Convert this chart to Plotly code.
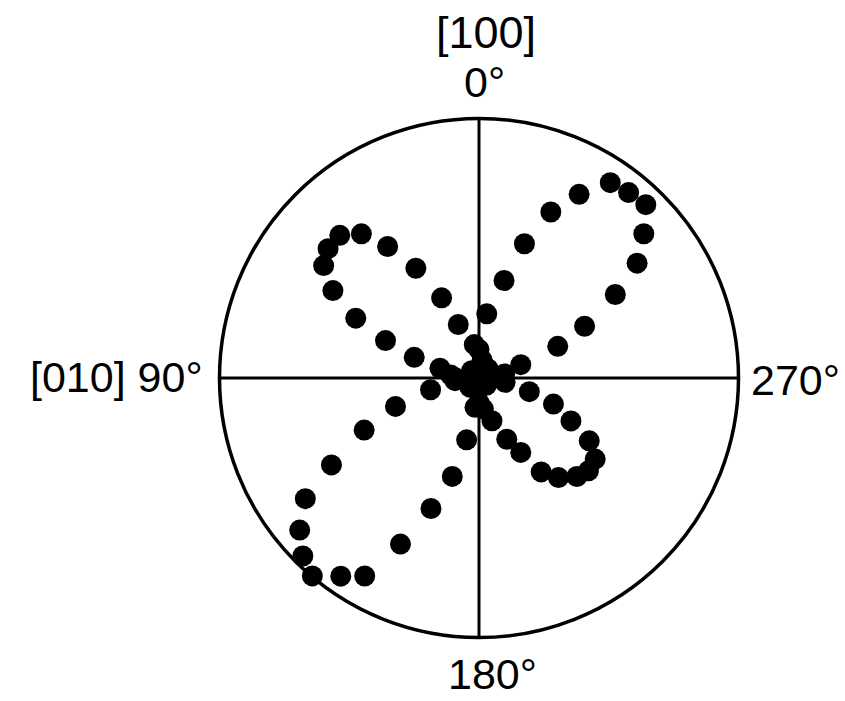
import plotly.graph_objects as go

# Polar scan: angle in degrees (counter-clockwise from [100]) and
# normalised signal amplitude (1.0 = outer circle).
theta_deg = [
    # lobe between 0° and 90°
    21.2, 25.0, 29.9, 34.8, 39.2, 44.3, 49.4, 54.1, 59.1, 64.1, 68.2, 72.3, 76.0,
    # near [010]
    84.0, 90.0,
    # lobe between 90° and 180°
    96.4, 103.6, 108.8, 114.4, 120.5, 124.8, 130.3, 135.3, 139.9, 145.1, 150.0,
    154.7, 159.8, 164.8, 168.7, 172.2,
    # near 180°
    180.0, 188.0,
    # lobe between 180° and 270°
    196.9, 204.4, 209.3, 213.5, 218.6, 224.8, 229.7, 235.1, 240.3, 245.0, 250.7,
    254.8, 260.6,
    # near 270°
    270.0, 279.0,
    # lobe between 270° and 360°
    287.7, 291.9, 296.1, 301.5, 306.0, 311.2, 316.1, 321.1, 326.1, 331.4, 336.6,
    341.3, 345.6, 353.1,
    # near [100]
    0.0, 8.0,
    # small values around the origin
    45.0, 135.0, 225.0, 315.0, 100.0, 350.0,
]
signal = [
    0.221, 0.341, 0.488, 0.617, 0.717, 0.768, 0.766, 0.739, 0.656, 0.528, 0.388, 0.262, 0.155,
    0.110, 0.090,
    0.093, 0.192, 0.340, 0.486, 0.660, 0.815, 0.906, 0.965, 0.997, 0.931, 0.881,
    0.708, 0.536, 0.393, 0.243, 0.114,
    0.095, 0.120,
    0.172, 0.259, 0.329, 0.434, 0.491, 0.535, 0.553, 0.546, 0.489, 0.391, 0.304,
    0.201, 0.102,
    0.080, 0.100,
    0.169, 0.327, 0.453, 0.616, 0.753, 0.844, 0.927, 0.918, 0.907, 0.806, 0.697,
    0.546, 0.388, 0.249,
    0.110, 0.130,
    0.040, 0.050, 0.040, 0.050, 0.030, 0.070,
]

tick_angles = [0, 90, 180, 270]
tick_labels = ["0°", "90°", "180°", "270°"]
axis_names = ["[100]", "[010]"]

W, H = 845, 701
cx, cy, rad = 479.0, 378.0, 259.5

fig = go.Figure(
    go.Scatterpolar(
        r=signal,
        theta=theta_deg,
        mode="markers",
        marker=dict(size=21, color="black", line=dict(width=0)),
        hoverinfo="skip",
    )
)

font = dict(family="Liberation Sans, Arial, sans-serif", size=43, color="black")


def px_x(x):
    return x / W


def px_y(y):
    return 1 - y / H


annotations = [
    dict(text=axis_names[0], x=px_x(486), y=px_y(33), xanchor="center", yanchor="middle",
         font=dict(font, size=45)),
    dict(text=tick_labels[0], x=px_x(484), y=px_y(82), xanchor="center", yanchor="middle"),
    dict(text=axis_names[1] + " " + tick_labels[1], x=px_x(205), y=px_y(377),
         xanchor="right", yanchor="middle"),
    dict(text=tick_labels[3], x=px_x(749), y=px_y(380), xanchor="left", yanchor="middle"),
    dict(text=tick_labels[2], x=px_x(493), y=px_y(674), xanchor="center", yanchor="middle"),
]
for a in annotations:
    a.update(xref="paper", yref="paper", showarrow=False)
    a.setdefault("font", font)

fig.update_layout(
    width=W,
    height=H,
    margin=dict(l=0, r=0, t=0, b=0),
    paper_bgcolor="white",
    plot_bgcolor="white",
    showlegend=False,
    annotations=annotations,
    polar=dict(
        domain=dict(
            x=[px_x(cx - rad), px_x(cx + rad)],
            y=[px_y(cy + rad), px_y(cy - rad)],
        ),
        bgcolor="white",
        radialaxis=dict(
            range=[0, 1],
            visible=False,
            showgrid=False,
            showline=False,
            showticklabels=False,
            ticks="",
        ),
        angularaxis=dict(
            rotation=90,
            direction="counterclockwise",
            tickmode="array",
            tickvals=tick_angles,
            showticklabels=False,
            ticks="",
            showgrid=True,
            gridcolor="black",
            gridwidth=2.5,
            showline=True,
            linecolor="black",
            linewidth=3.5,
        ),
    ),
)

fig.write_html("out.html")
